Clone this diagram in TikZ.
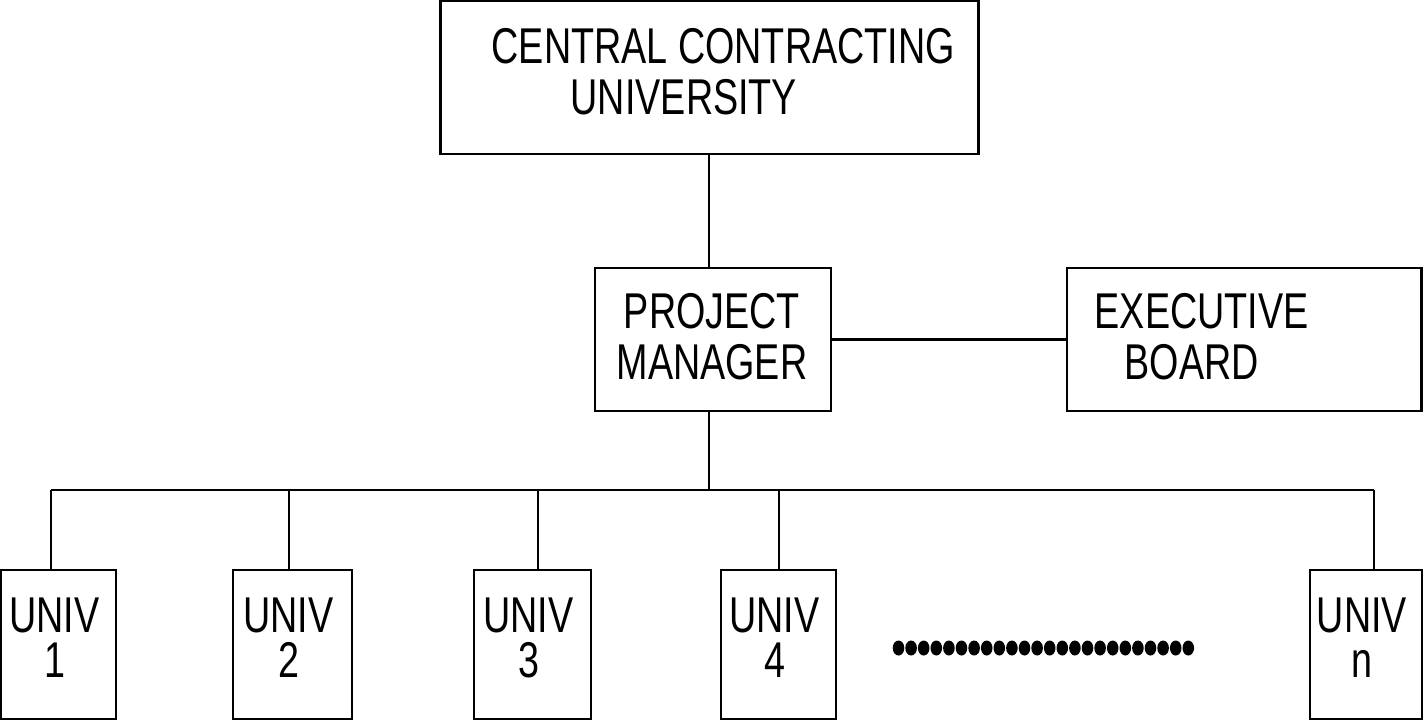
\documentclass[tikz,border=0pt]{standalone}
\usepackage{fontspec}
\setmainfont{Liberation Sans}[FakeStretch=0.75]
\usetikzlibrary{positioning}

\tikzset{
  box/.style={draw, line width=0.8pt, rectangle, inner sep=0pt},
  txt/.style={inner sep=0pt, font={\fontsize{14.3}{14.5}\selectfont}},
  utxt/.style={inner sep=0pt, align=center, font={\fontsize{14.3}{12.8}\selectfont}},
  wire/.style={line width=0.8pt}
}

\begin{document}
\begin{tikzpicture}[x=0.01cm, y=-0.01cm]
            \useasboundingbox (0,0) rectangle (1424,720);
            % Define boxes
            \node[box, minimum width=5.37cm, minimum height=1.53cm] (ccu) at (709.5,77.5) {};
            \node[box, minimum width=2.36cm, minimum height=1.43cm] (pm) at (713,339.5) {};
            \node[box, minimum width=3.54cm, minimum height=1.43cm] (eb) at (1244,339.5) {};
            % Texts in the boxes
            \node[txt, anchor=north west, align=left] (ccuText) at (491,28)
                {CENTRAL CONTRACTING\\\hspace*{0.79cm}UNIVERSITY};
            \node[txt, anchor=north, align=center] (pmText) at (712,293)
                {PROJECT\\MANAGER};
            \node[txt, anchor=north west, align=left] (ebText) at (1094,293)
                {EXECUTIVE\\\hspace*{0.3cm}BOARD};
            % The universities
            \foreach \i/\x/\w in {1/58.5/1.15, 2/292.5/1.19, 3/532.5/1.17, 4/778.5/1.15, n/1366/1.12}{
                \node[box, minimum width=\w cm, minimum height=1.49cm] (u\i) at (\x,644.5) {};
                \node[utxt, anchor=north] (u\i Text) at (\x-4,597) {UNIV\\\i};
            }
            % Draw edges
            \coordinate (spine) at (709,490);
            \coordinate (busL) at (51,490);
            \coordinate (busR) at (1374,490);
            \draw[wire] (spine |- ccu.south) -- (spine |- pm.north);
            \draw[wire] (spine |- pm.south) -- (spine);
            \draw[wire] (pm.east) -- (eb.west);
            \draw[wire] (busL) -- (busR);
            \foreach \i/\x in {1/51, 2/289, 3/538, 4/779, n/1374}{
                \coordinate (d\i) at (\x,490);
                \draw[wire] (d\i) -- (d\i |- u\i.north);
            }
            % The row of dots
            \foreach \k in {0,...,23}{
                \fill (898.5+12.6*\k,648) ellipse (5.8 and 7.5);
            }
          \end{tikzpicture}
\end{document}
